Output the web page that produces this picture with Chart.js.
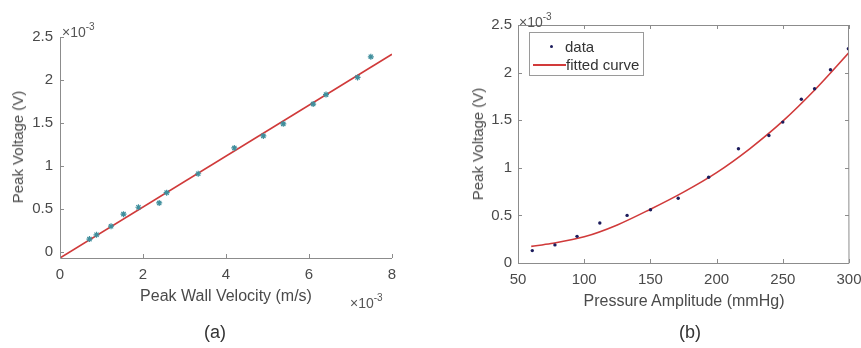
<!DOCTYPE html>
<html>
<head>
<meta charset="utf-8">
<script src="https://cdn.jsdelivr.net/npm/chart.js@4.4.1/dist/chart.umd.min.js"></script>
<style>
  html, body { margin: 0; padding: 0; background: #fff; }
  #wrap { position: relative; width: 861px; height: 348px; overflow: hidden; background: #fff;
          font-family: "Liberation Sans", Arial, sans-serif; color: #4a4a4a; }
  canvas { position: absolute; top: 0; }
  .t { position: absolute; white-space: nowrap; font-size: 16px; line-height: 18px; }
  .ty { font-size: 15px; }
  .rot { transform: translate(-50%, -50%) rotate(-90deg); }
  .mult { position: absolute; font-size: 14px; line-height: 15px; white-space: nowrap; color: #555; }
  .mult sup { font-size: 10px; position: relative; top: -1px; }
  .cap { position: absolute; font-size: 18px; line-height: 20px; color: #333; transform: translateX(-50%); }
  #legend { position: absolute; left: 529px; top: 32px; width: 113px; height: 42px; border: 1px solid #9a9a9a; background: #fff; }
  #legend .t { font-size: 15px; line-height: 17px; }
</style>
</head>
<body>
<div id="wrap">
  <canvas id="c1" width="430" height="348" style="left:0"></canvas>
  <canvas id="c2" width="431" height="348" style="left:430px"></canvas>

  <div class="t ty rot" style="left:18px; top:147px;">Peak Voltage (V)</div>
  <div class="t" style="left:226px; top:287px; transform:translateX(-50%);">Peak Wall Velocity (m/s)</div>
  <div class="mult" style="left:62px; top:20px;">×10<sup>-3</sup></div>
  <div class="mult" style="left:350px; top:291px;">×10<sup>-3</sup></div>
  <div class="cap" style="left:215px; top:322px;">(a)</div>

  <div class="t ty rot" style="left:478px; top:144px;">Peak Voltage (V)</div>
  <div class="t" style="left:684px; top:292px; transform:translateX(-50%);">Pressure Amplitude (mmHg)</div>
  <div class="mult" style="left:519px; top:10px;">×10<sup>-3</sup></div>
  <div class="cap" style="left:690px; top:322px;">(b)</div>

  <div id="legend">
    <div style="position:absolute; left:20px; top:12px; width:3px; height:3px; background:#1c1c5c; border-radius:50%;"></div>
    <div class="t" style="left:35px; top:5px; color:#333;">data</div>
    <div style="position:absolute; left:3px; top:31px; width:33px; height:2px; background:#d23a3a;"></div>
    <div class="t" style="left:36px; top:23px; color:#333;">fitted curve</div>
  </div>
</div>
<script>
// ---- Chart (a): values in units of 1e-3 ----
const velX = [0.71, 0.88, 1.23, 1.53, 1.89, 2.39, 2.57, 3.33, 4.20, 4.90, 5.38, 6.10, 6.41, 7.17, 7.49];
const voltA = [0.15, 0.20, 0.30, 0.44, 0.52, 0.57, 0.69, 0.91, 1.21, 1.35, 1.49, 1.72, 1.83, 2.03, 2.27];
const fitAX = [0, 8];
const fitAY = [-0.07, 2.30];
const xTicksA = [0, 2, 4, 6, 8];
const yTicksA = [0, 0.5, 1, 1.5, 2, 2.5];

// ---- Chart (b) ----
const pressX = [60.8, 77.9, 94.6, 111.8, 132.4, 150.1, 171.0, 194.0, 216.5, 239.5, 250.0, 264.0, 274.0, 286.0, 299.5];
const voltB = [0.13, 0.19, 0.28, 0.42, 0.50, 0.56, 0.68, 0.90, 1.20, 1.34, 1.48, 1.72, 1.83, 2.03, 2.25];
const fitBX = [60, 75, 100, 125, 150, 175, 200, 225, 250, 275, 300];
const fitBY = [0.175, 0.205, 0.275, 0.40, 0.565, 0.745, 0.95, 1.20, 1.49, 1.83, 2.21];
const xTicksB = [50, 100, 150, 200, 250, 300];
const yTicksB = [0, 0.5, 1, 1.5, 2, 2.5];

const FONT = { family: '"Liberation Sans", Arial, sans-serif', size: 15 };
const AXIS = '#8c8c8c';

function frame(box) {
  return {
    id: 'frame',
    afterDraw(chart) {
      const ctx = chart.ctx, a = chart.chartArea;
      const xs = chart.scales.x, ys = chart.scales.y;
      ctx.save();
      ctx.strokeStyle = AXIS;
      ctx.lineWidth = 1;
      ctx.beginPath();
      ctx.moveTo(a.left + 0.5, a.top); ctx.lineTo(a.left + 0.5, a.bottom + 0.5);
      ctx.lineTo(a.right, a.bottom + 0.5);
      if (box) { ctx.lineTo(a.right - 0.5, a.top + 0.5); ctx.lineTo(a.left + 0.5, a.top + 0.5); }
      ctx.stroke();
      const L = 4;
      ctx.beginPath();
      xs.ticks.forEach(t => {
        const px = Math.round(xs.getPixelForValue(t.value)) + 0.5;
        ctx.moveTo(px, a.bottom); ctx.lineTo(px, a.bottom - L);
        if (box) { ctx.moveTo(px, a.top); ctx.lineTo(px, a.top + L); }
      });
      ys.ticks.forEach(t => {
        const py = Math.round(ys.getPixelForValue(t.value)) + 0.5;
        ctx.moveTo(a.left, py); ctx.lineTo(a.left + L, py);
        if (box) { ctx.moveTo(a.right, py); ctx.lineTo(a.right - L, py); }
      });
      ctx.stroke();
      ctx.restore();
    }
  };
}

function makeScales(xmin, xmax, xt, ymin, ymax, yt, yWidth, xHeight, ypad) {
  const zero = s => { s.paddingLeft = 0; s.paddingRight = 0; s.paddingTop = 0; s.paddingBottom = 0; };
  return {
    x: {
      type: 'linear', min: xmin, max: xmax,
      afterBuildTicks: s => { s.ticks = xt.map(v => ({ value: v })); },
      afterFit: s => { s.height = xHeight; zero(s); },
      grid: { display: false, drawTicks: false }, border: { display: false },
      ticks: { font: FONT, color: '#4a4a4a', padding: 8, maxRotation: 0, autoSkip: false,
               callback: v => String(v) }
    },
    y: {
      type: 'linear', min: ymin, max: ymax,
      afterBuildTicks: s => { s.ticks = yt.map(v => ({ value: v })); },
      afterFit: s => { s.width = yWidth; zero(s); },
      grid: { display: false, drawTicks: false }, border: { display: false },
      ticks: { font: FONT, color: '#4a4a4a', padding: ypad, autoSkip: false,
               callback: v => String(v) }
    }
  };
}

new Chart(document.getElementById('c1'), {
  type: 'scatter',
  data: {
    datasets: [
      { label: 'fit', type: 'line', data: fitAX.map((x, i) => ({ x, y: fitAY[i] })),
        borderColor: '#d03a3a', borderWidth: 1.6, pointRadius: 0, fill: false, order: 2 },
      { label: 'data', data: velX.map((x, i) => ({ x, y: voltA[i] })),
        pointStyle: 'star', pointRadius: 3, borderColor: '#3f8e9c', backgroundColor: '#3f8e9c',
        pointBorderWidth: 1.2, order: 1 }
    ]
  },
  options: {
    responsive: false, animation: false, devicePixelRatio: 1,
    layout: { padding: { left: 0, right: 38, top: 37, bottom: 0 } },
    plugins: { legend: { display: false }, tooltip: { enabled: false } },
    scales: makeScales(0, 8, xTicksA, -0.07, 2.5, yTicksA, 60, 90, 7)
  },
  plugins: [frame(false)]
});

new Chart(document.getElementById('c2'), {
  type: 'scatter',
  data: {
    datasets: [
      { label: 'fitted curve', type: 'line', data: fitBX.map((x, i) => ({ x, y: fitBY[i] })),
        borderColor: '#d03a3a', borderWidth: 1.6, pointRadius: 0, fill: false,
        cubicInterpolationMode: 'monotone', order: 2 },
      { label: 'data', data: pressX.map((x, i) => ({ x, y: voltB[i] })),
        pointStyle: 'circle', pointRadius: 1.7, borderWidth: 0, backgroundColor: '#1c1c5c', order: 1 }
    ]
  },
  options: {
    responsive: false, animation: false, devicePixelRatio: 1,
    layout: { padding: { left: 0, right: 12, top: 25, bottom: 0 } },
    plugins: { legend: { display: false }, tooltip: { enabled: false } },
    scales: makeScales(50, 300, xTicksB, 0, 2.5, yTicksB, 88, 85, 6)
  },
  plugins: [frame(true)]
});
</script>
</body>
</html>
